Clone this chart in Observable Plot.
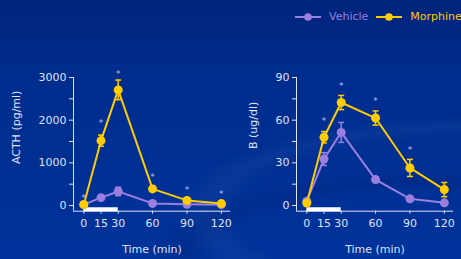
<!DOCTYPE html>
<html><head><meta charset="utf-8">
<script src="https://cdn.jsdelivr.net/npm/d3@7"></script>
<script src="https://cdn.jsdelivr.net/npm/@observablehq/plot@0.6"></script>
<style>
html,body{margin:0;padding:0;}
body{width:461px;height:259px;overflow:hidden;font-family:"DejaVu Sans",sans-serif;
  background:
    radial-gradient(ellipse 330px 110px at 470px 215px, rgba(0,0,0,0) 70%, rgba(255,255,255,0.035) 80%, rgba(0,0,0,0) 90%),
    radial-gradient(ellipse 300px 90px at 430px 255px, rgba(0,0,0,0) 70%, rgba(0,10,60,0.12) 82%, rgba(0,0,0,0) 94%),
    linear-gradient(#00247c 0%, #002c8c 25%, #00339c 100%);}
#wrap{position:relative;width:461px;height:259px;overflow:hidden;}
.panel{position:absolute;top:0;}
#legend{position:absolute;top:10px;left:295px;display:flex;align-items:center;font-size:11px;white-space:nowrap;}
#legend span{margin:0 8px 0 8px;}
</style></head><body>
<div id="wrap"><div id="p1" class="panel" style="left:0"></div><div id="p2" class="panel" style="left:223px"></div><div id="legend"></div></div>
<script>
// ---- data ----
const times = [0, 15, 30, 60, 90, 120];
const timeTicks = [0, 15, 30, 60, 90, 120];
const series = ["Vehicle", "Morphine"];
const seriesColors = ["#9a7fe0", "#ffcc00"];
const infusion = [[0, 30]];

const acthVehicle = [20, 185, 330, 50, 30, 20];
const acthVehicleErr = [15, 40, 100, 20, 15, 10];
const acthMorphine = [25, 1520, 2710, 390, 120, 45];
const acthMorphineErr = [20, 130, 230, 40, 30, 15];
const acthStars = [235, 2010, 3140, 745, 430, 330];
const acthTicks = [0, 500, 1000, 1500, 2000, 2500, 3000];
const acthTickLabels = [0, 1000, 2000, 3000];

const bVehicle = [3, 32.7, 51.4, 18.2, 4.7, 1.9];
const bVehicleErr = [1, 4.5, 7, 2, 1, 0.8];
const bMorphine = [1.8, 48, 72.4, 61.5, 26.4, 11.2];
const bMorphineErr = [1, 4, 5, 5, 6, 5];
const bStars = [null, 61.5, 86.4, 75.5, 41.4, null];
const bTicks = [0, 15, 30, 45, 60, 75, 90];
const bTickLabels = [0, 30, 60, 90];

const axisColor = "#dfe2f2";
const starColor = "#b9c2e6";

const cap = {draw(ctx, size) { const w = Math.sqrt(size / Math.PI); ctx.moveTo(-w, 0); ctx.lineTo(w, 0); }};

function panel({yDomain, yTicks, yTickLabels, label, data, errs, stars, labelDx, labelDy}) {
  const xDomain = [-9, 128];
  const seriesMarks = series.flatMap((s, i) => {
    const rows = times.map((t, j) => ({t, v: data[i][j], e: errs[i][j], s}));
    const c = seriesColors[i];
    return [
      Plot.ruleX(rows, {x: "t", y1: d => d.v - d.e, y2: d => d.v + d.e, stroke: c, strokeWidth: 1.5}),
      Plot.dot(rows, {x: "t", y: d => d.v + d.e, symbol: cap, r: 3, stroke: c, fill: "none", strokeWidth: 1.5}),
      Plot.dot(rows, {x: "t", y: d => d.v - d.e, symbol: cap, r: 3, stroke: c, fill: "none", strokeWidth: 1.5}),
      Plot.line(rows, {x: "t", y: "v", stroke: c, strokeWidth: 2}),
      Plot.dot(rows, {x: "t", y: "v", fill: c, r: 4.5})
    ];
  });
  const starRows = times.map((t, j) => ({t, y: stars[j]})).filter(d => d.y != null);
  return Plot.plot({
    width: 238, height: 259,
    marginLeft: 73, marginRight: 8, marginTop: 77, marginBottom: 48.3,
    style: {background: "transparent", color: axisColor, fontFamily: "DejaVu Sans, sans-serif", fontSize: "11px", overflow: "visible"},
    x: {domain: xDomain},
    y: {domain: yDomain},
    marks: [
      Plot.ruleX([xDomain[0]], {stroke: axisColor, strokeWidth: 1}),
      Plot.ruleY([yDomain[0]], {stroke: axisColor, strokeWidth: 1}),
      Plot.ruleY(infusion, {x1: d => d[0], x2: d => d[1], y: yDomain[0], dy: -2, stroke: "white", strokeWidth: 4}),
      Plot.axisX({ticks: timeTicks, tickSize: 3, tickPadding: 5, label: null}),
      Plot.axisY({ticks: yTicks, tickSize: 4, tickPadding: 3, tickFormat: d => yTickLabels.includes(d) ? String(d) : "", label: null}),
      Plot.text([label], {frameAnchor: "left", textAnchor: "middle", lineAnchor: "middle", rotate: -90, dx: labelDx, dy: labelDy, fill: axisColor, fontSize: 11}),
      Plot.text(["Time (min)"], {frameAnchor: "bottom", textAnchor: "middle", lineAnchor: "middle", dy: 38, fill: axisColor, fontSize: 11}),
      ...seriesMarks,
      Plot.text(starRows, {x: "t", y: "y", text: () => "*", fill: starColor, fontSize: 9, dy: 3})
    ]
  });
}

document.getElementById("p1").append(panel({
  yDomain: [-133, 3000], yTicks: acthTicks, yTickLabels: acthTickLabels, label: "ACTH (pg/ml)",
  data: [acthVehicle, acthMorphine], errs: [acthVehicleErr, acthMorphineErr], stars: acthStars,
  labelDx: -57, labelDy: -17
}));
document.getElementById("p2").append(panel({
  yDomain: [-4, 90], yTicks: bTicks, yTickLabels: bTickLabels, label: "B (ug/dl)",
  data: [bVehicle, bMorphine], errs: [bVehicleErr, bMorphineErr], stars: bStars,
  labelDx: -43, labelDy: -19
}));

// legend
const legend = document.getElementById("legend");
series.forEach((s, i) => {
  const c = seriesColors[i];
  const sw = document.createElementNS("http://www.w3.org/2000/svg", "svg");
  sw.setAttribute("width", 26); sw.setAttribute("height", 10);
  sw.innerHTML = `<line x1="0" x2="26" y1="5" y2="5" stroke="${c}" stroke-width="2"/><circle cx="13" cy="5" r="3.8" fill="${c}"/>`;
  const tx = document.createElement("span");
  tx.textContent = s; tx.style.color = c;
  legend.append(sw, tx);
});
</script>
</body></html>
